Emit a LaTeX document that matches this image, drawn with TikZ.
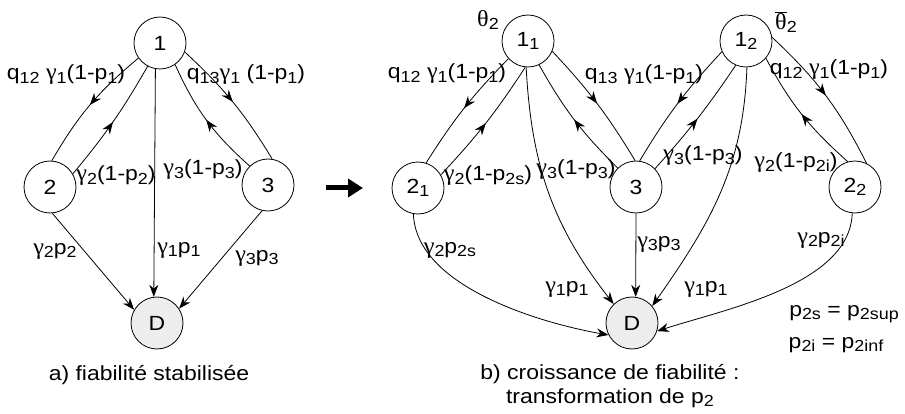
\documentclass[tikz,border=0pt]{standalone}
\usepackage{fontspec}
\setmainfont{Liberation Sans}[FakeStretch=1.12]
\newfontfamily\gk{Liberation Serif}[FakeStretch=1.05]
\usetikzlibrary{arrows.meta,decorations.markings}
\newcommand\lo[1]{\raisebox{-0.3ex}{\fontsize{16}{16}\selectfont #1}}
\newcommand\gam{{\gk\fontsize{23}{24}\selectfont γ}}
\begin{document}
\begin{tikzpicture}[x=1pt,y=1pt,
  font=\fontsize{20.5}{24}\selectfont,
  state/.style={circle,draw,line width=0.8pt,minimum size=52pt,inner sep=0pt},
  dstate/.style={state,fill=black!7},
  lbl/.style={inner sep=0pt},
  tr/.style={line width=0.8pt},
  midarrow/.style={tr,postaction={decorate},decoration={markings,
     mark=at position 0.5 with {\arrow{Stealth[length=12pt,width=9pt]}}}},
  endarrow/.style={tr,-{Stealth[length=12pt,width=9pt]}}]
\useasboundingbox (0,0) rectangle (905,-414);

% ---- left diagram
\node[state] (n1) at (160,-43) {1};
\node[state] (n2) at (50,-187) {2};
\node[state] (n3) at (268,-185) {3};
\node[dstate] (nD) at (157,-323) {D};

\draw[midarrow] (n1.215) to[bend right=10] (n2.86);
\draw[midarrow] (n2.30) to[bend right=5] (n1.242);
\draw[midarrow] (n1.-20) to[bend left=8] (n3.81);
\draw[midarrow] (n3.134) to[bend left=12] (n1.-55);
\draw[endarrow] (n1.-100) -- (nD.97);
\draw[endarrow] (n2.-85) -- (nD.150);
\draw[endarrow] (n3.-103) -- (nD.33);

\node[lbl] (la) at (66,-75) {q\lo{12} \gam\lo{1}(1-p\lo{1})};
\node[lbl] (lb) at (116,-176) {\gam\lo{2}(1-p\lo{2})};
\node[lbl] (lc) at (179,-250) {\gam\lo{1}p\lo{1}};
\node[lbl] (ld) at (246,-75) {q\lo{13}\gam\lo{1} (1-p\lo{1})};
\node[lbl] (le) at (203,-170) {\gam\lo{3}(1-p\lo{3})};
\node[lbl] (lf) at (55,-251) {\gam\lo{2}p\lo{2}};
\node[lbl] (lg) at (257,-258) {\gam\lo{3}p\lo{3}};
\node[lbl] (capa) at (149,-375) {a) fiabilité stabilisée};

% ---- transition arrow
\coordinate (as) at (326,-188);
\coordinate (ae) at (363,-188);
\draw[line width=5pt,-{Triangle[length=15pt,width=18pt]}] (as) -- (ae);

% ---- right diagram
\node[state] (m11) at (528,-41) {1\lo{1}};
\node[state] (m21) at (418,-188) {2\lo{1}};
\node[state] (m3) at (636,-187) {3};
\node[state] (m12) at (746,-41) {1\lo{2}};
\node[state] (m22) at (855,-187) {2\lo{2}};
\node[dstate] (mD) at (632,-323) {D};

\node[lbl] (th1) at (488,-20) {{\gk\fontsize{23}{24}\selectfont θ}\lo{2}};
\node[lbl] (th2) at (786,-22) {$\overline{\hbox{\gk\fontsize{23}{24}\selectfont θ}}$\lo{2}};

\draw[midarrow] (m11.222) to[bend right=6] (m21.72);
\draw[midarrow] (m21.30) to[bend right=5] (m11.264);
\draw[midarrow] (m11.-23) to[bend left=6] (m3.92);
\draw[midarrow] (m3.134) to[bend left=8] (m11.-65);
\draw[midarrow] (m12.204) to[bend right=6] (m3.82);
\draw[midarrow] (m3.44) to[bend right=4] (m12.247);
\draw[midarrow] (m12.8) to[bend left=10] (m22.64);
\draw[midarrow] (m22.106) to[bend left=10] (m12.-41);
\draw[endarrow] (m3.-90) -- (mD.82);
\draw[endarrow] (m11.266) to[out=-87,in=128] (mD.134);
\draw[endarrow] (m12.272) to[out=-92,in=55] (mD.40);
\draw[endarrow] (m21.260) to[out=-88,in=170,looseness=0.8] (mD.207);
\draw[endarrow] (m22.264) to[out=-92,in=18,looseness=0.8] (mD.-18);

\node[lbl] (ra) at (447,-74) {q\lo{12} \gam\lo{1}(1-p\lo{1})};
\node[lbl] (rb) at (488,-176) {\gam\lo{2}(1-p\lo{2s})};
\node[lbl] (rc) at (644,-75) {q\lo{13} \gam\lo{1}(1-p\lo{1})};
\node[lbl] (rd) at (576,-170) {\gam\lo{3}(1-p\lo{3})};
\node[lbl] (re) at (567,-289) {\gam\lo{1}p\lo{1}};
\node[lbl] (rf) at (703,-156) {\gam\lo{3}(1-p\lo{3})};
\node[lbl] (rg) at (706,-289) {\gam\lo{1}p\lo{1}};
\node[lbl] (rh) at (829,-70) {q\lo{12} \gam\lo{1}(1-p\lo{1})};
\node[lbl] (ri) at (796,-163) {\gam\lo{2}(1-p\lo{2i})};
\node[lbl] (rj) at (659,-244) {\gam\lo{3}p\lo{3}};
\node[lbl] (rk) at (450,-250) {\gam\lo{2}p\lo{2s}};
\node[lbl] (rl) at (821,-240) {\gam\lo{2}p\lo{2i}};
\node[lbl] (eq1) at (844,-314) {p\lo{2s} = p\lo{2sup}};
\node[lbl] (eq2) at (836,-345) {p\lo{2i} = p\lo{2inf}};
\node[lbl,align=center] (capb) at (610,-386) {b) croissance de fiabilité :\\transformation de p\lo{2}};
\end{tikzpicture}
\end{document}
